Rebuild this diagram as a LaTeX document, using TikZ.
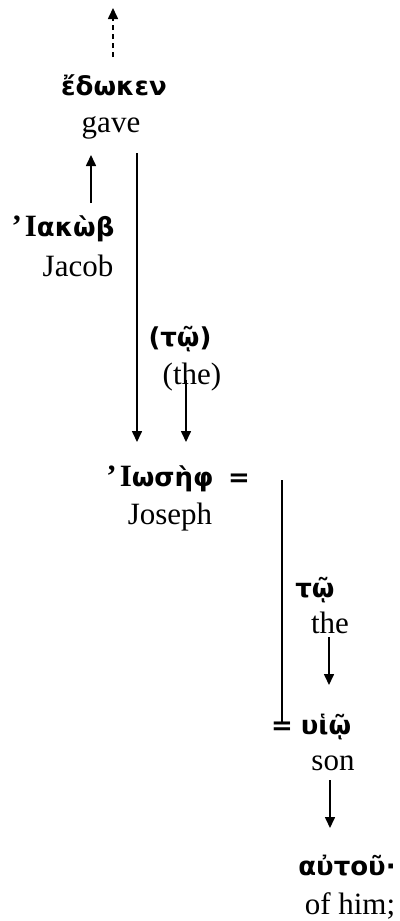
\documentclass[tikz,border=0pt]{standalone}
\usepackage{fontspec}
\setmainfont{Liberation Serif}
\newfontfamily\grk{DejaVu Sans}
\newfontfamily\lsb{Liberation Serif}
\usetikzlibrary{arrows.meta}
\newcommand{\psiliI}{{\lsb\bfseries\fontsize{31}{36}\selectfont ’\kern3pt Ι}}
\tikzset{
  gr/.style={font=\grk\bfseries\fontsize{26}{30}\selectfont, anchor=base, inner sep=0pt},
  en/.style={font=\fontsize{31}{36}\selectfont, anchor=base, inner sep=0pt},
  conn/.style={line width=1.6pt},
  arr/.style={conn, -{Triangle[width=10pt,length=11pt]}},
  dasharr/.style={arr, dash pattern=on 5pt off 4pt}
}
\begin{document}
\begin{tikzpicture}[x=1pt,y=-1pt]
\useasboundingbox (0,0) rectangle (399,921);
% words
\node[gr] (edoken) at (114,95) {ἔδωκεν};
\node[en] (gave) at (111,132) {gave};
\node[gr] (iakob) at (63,236) {\psiliI ακὼβ};
\node[en] (jacob) at (78,276) {Jacob};
\node[gr] (tw1) at (180,346) {(τῷ)};
\node[en] (the1) at (192,384) {(the)};
\node[gr] (iosef) at (160,486) {\psiliI ωσὴφ};
\node[gr] (eq1) at (239,486) {=};
\node[en] (joseph) at (170,524) {Joseph};
\node[gr] (tw2) at (315,597) {τῷ};
\node[en] (the2) at (330,633) {the};
\node[gr] (eq2) at (282,734) {=};
\node[gr] (huio) at (326,734) {υἱῷ};
\node[en] (son) at (333,770) {son};
\node[gr] (autou) at (347,875) {αὐτοῦ·};
\node[en] (ofhim) at (350,914) {of him;};
% connector ends
\coordinate (d0) at (113,57);
\coordinate (d1) at (113,8);
\coordinate (j0) at (91,203);
\coordinate (j1) at (91,155);
\coordinate (g0) at (137,153);
\coordinate (g1) at (137,442);
\coordinate (t0) at (186,380);
\coordinate (t1) at (186,442);
\coordinate (r0) at (282,480);
\coordinate (r1) at (282,724);
\coordinate (h0) at (329,637);
\coordinate (h1) at (329,685);
\coordinate (s0) at (330,780);
\coordinate (s1) at (330,828);
% connectors
\draw[dasharr] (d0) -- (d1);
\draw[arr] (j0) -- (j1);
\draw[arr] (g0) -- (g1);
\draw[arr] (t0) -- (t1);
\draw[conn] (r0) -- (r1);
\draw[arr] (h0) -- (h1);
\draw[arr] (s0) -- (s1);
\end{tikzpicture}
\end{document}
